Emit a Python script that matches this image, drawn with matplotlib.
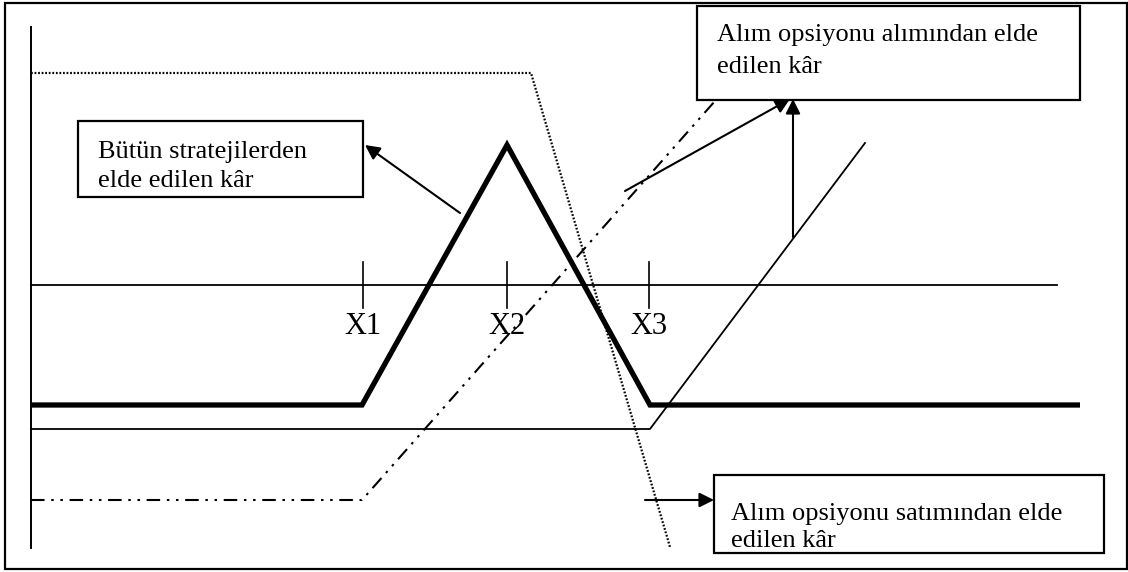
import matplotlib.pyplot as plt
from matplotlib.patches import Rectangle

# diagram coordinates (x to the right, y downwards, same scale as the picture)
axis_x = [31, 31]
axis_y = [27, 548]

zero_x = [31, 1057]
zero_y = [285, 285]

# profit of the whole strategy (butterfly)
total_x = [31, 362, 507, 650, 1080]
total_y = [405, 405, 145, 405, 405]

# sold call (X2)
sold_x = [31, 531, 670]
sold_y = [73, 73, 547]

# bought call (X1)
buy1_x = [31, 362, 715]
buy1_y = [500, 500, 101]

# bought call (X3)
buy3_x = [31, 650, 865]
buy3_y = [429, 429, 143]

tick_x = [363, 507, 649]
tick_labels = ["X1", "X2", "X3"]

box_texts = [["Bütün stratejilerden", "elde edilen kâr"],
             ["Alım opsiyonu alımından elde", "edilen kâr"],
             ["Alım opsiyonu satımından elde", "edilen kâr"]]

fig = plt.figure(figsize=(11.28, 5.72), dpi=100)
ax = fig.add_axes([0, 0, 1, 1])
ax.set_xlim(0, 1128)
ax.set_ylim(572, 0)
ax.axis('off')

serif = ['Liberation Serif', 'DejaVu Serif']

# outer frame
ax.add_patch(Rectangle((5, 3), 1122, 566, fill=False, lw=1.6, ec='black'))

ax.plot(axis_x, axis_y, color='black', lw=1.4)
ax.plot(zero_x, zero_y, color='black', lw=1.3)
ax.plot(sold_x, sold_y, color='black', lw=1.6, ls=(0, (0.8, 0.8)))
ax.plot(buy1_x, buy1_y, color='black', lw=1.5, ls=(0, (6.5, 3.2, 1.2, 3.2, 1.2, 3.2)))
ax.plot(buy3_x, buy3_y, color='black', lw=1.3)
ax.plot(total_x, total_y, color='black', lw=3.8, solid_joinstyle='miter', solid_capstyle='butt')

for x, lab in zip(tick_x, tick_labels):
    ax.plot([x, x], [262, 308], color='black', lw=1.2)
    ax.text(x, 334, lab, ha='center', va='baseline', fontsize=22, family=serif)

# text boxes
boxes = [(78, 121, 285, 76, 98, 158, 187),
         (697, 6, 383, 94, 717, 41, 73),
         (714, 475, 390, 78, 731, 520, 547)]
for (bx, by, bw, bh, tx, t1, t2), lines in zip(boxes, box_texts):
    ax.add_patch(Rectangle((bx, by), bw, bh, fill=True, fc='white', lw=1.6, ec='black', zorder=3))
    ax.text(tx, t1, lines[0], va='baseline', fontsize=19, family=serif, zorder=4)
    ax.text(tx, t2, lines[1], va='baseline', fontsize=19, family=serif, zorder=4)

arrow = dict(arrowstyle='-|>', color='black', lw=1.5, mutation_scale=22, shrinkA=0, shrinkB=0)
ax.annotate('', xy=(365, 145), xytext=(460, 213), arrowprops=arrow)
ax.annotate('', xy=(790, 99), xytext=(625, 191), arrowprops=arrow)
ax.annotate('', xy=(793, 99), xytext=(793, 237), arrowprops=arrow)
ax.annotate('', xy=(714, 500), xytext=(645, 500), arrowprops=arrow)

fig.savefig('out.png', dpi=100)
